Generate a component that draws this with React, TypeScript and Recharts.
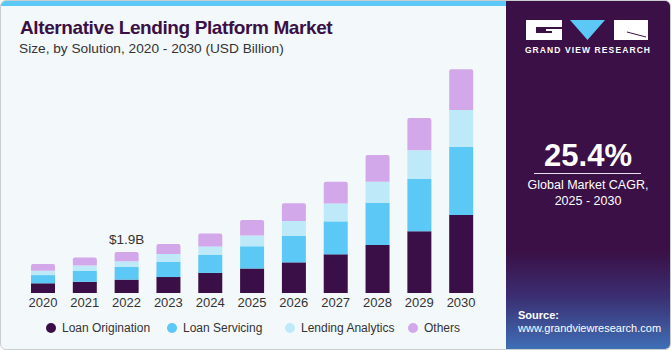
import { BarChart, Bar, XAxis, YAxis, LabelList } from 'recharts';

const years = ['2020', '2021', '2022', '2023', '2024', '2025', '2026', '2027', '2028', '2029', '2030'];
const loanOrigination = [0.45, 0.52, 0.62, 0.74, 0.93, 1.14, 1.42, 1.79, 2.22, 2.86, 3.61];
const loanServicing = [0.38, 0.5, 0.59, 0.7, 0.83, 1.03, 1.22, 1.53, 1.96, 2.42, 3.17];
const lendingAnalytics = [0.2, 0.25, 0.26, 0.37, 0.4, 0.5, 0.7, 0.83, 0.97, 1.33, 1.7];
const others = [0.31, 0.37, 0.43, 0.46, 0.6, 0.71, 0.82, 1.01, 1.25, 1.5, 1.89];
const labelled = { index: 2, text: '$1.9B' };

const series = [
  { key: 'origination', name: 'Loan Origination', color: '#3a0f47' },
  { key: 'servicing', name: 'Loan Servicing', color: '#5bc8f5' },
  { key: 'analytics', name: 'Lending Analytics', color: '#bde9f9' },
  { key: 'others', name: 'Others', color: '#d3a8ea' },
];
// legend item left edges (circle) in the reference
const legendX = [46, 167, 285, 408];

const data = years.map((year, i) => ({
  year,
  origination: loanOrigination[i],
  servicing: loanServicing[i],
  analytics: lendingAnalytics[i],
  others: others[i],
}));

const FONT = '"Liberation Sans", Arial, sans-serif';

function ValueLabel(props: any) {
  const { x, y, width, index } = props;
  if (index !== labelled.index) return null;
  return (
    <text x={x + width / 2} y={y - 8} textAnchor="middle" fontSize={13.5} fill="#333" fontFamily={FONT}>
      {labelled.text}
    </text>
  );
}

export default function App() {
  return (
    <div style={{ position: 'relative', width: 671, height: 350, background: '#fff', fontFamily: FONT }}>
      <style>{'body{margin:0}'}</style>
      {/* card */}
      <div style={{ position: 'absolute', left: 0, top: 0, width: 669, height: 348, border: '1px solid #c9cdd0', borderRadius: 6, background: '#f3f8fb', overflow: 'hidden' }}>
        <div style={{ position: 'absolute', left: 0, top: 0, width: 506, height: 5, background: '#5bc8f5' }} />
        <div style={{ position: 'absolute', left: 505, top: 0, width: 164, height: 348, background: 'linear-gradient(180deg, #3a1046 0%, #3a1046 72%, #3b2e72 85%, #3f6fb6 100%)' }} />
      </div>

      <div style={{ position: 'absolute', left: 20, top: 17, fontSize: 19, fontWeight: 900, color: '#3a1046', letterSpacing: -0.4, whiteSpace: 'nowrap' }}>
        Alternative Lending Platform Market
      </div>
      <div style={{ position: 'absolute', left: 19, top: 41, fontSize: 13.7, color: '#333', whiteSpace: 'nowrap' }}>
        Size, by Solution, 2020 - 2030 (USD Billion)
      </div>

      <div style={{ position: 'absolute', left: 0, top: 0 }}>
        <BarChart width={500} height={350} data={data} margin={{ top: 55.6, right: 18, bottom: 27, left: 22 }} barSize={24}>
          <XAxis dataKey="year" axisLine={false} tickLine={false} tickSize={0} tickMargin={5} height={30} interval={0}
            tick={{ fontSize: 13, fill: '#333', fontFamily: FONT }} />
          <YAxis hide domain={[0, 11]} />
          {series.map((s, i) => (
            <Bar key={s.key} dataKey={s.key} name={s.name} stackId="a" fill={s.color} isAnimationActive={false}
              radius={i === series.length - 1 ? [2, 2, 0, 0] : 0}>
              {i === series.length - 1 && <LabelList dataKey="others" content={<ValueLabel />} />}
            </Bar>
          ))}
        </BarChart>
      </div>

      {/* legend */}
      {series.map((s, i) => (
        <div key={s.key} style={{ position: 'absolute', left: legendX[i], top: 320, height: 16, display: 'flex', alignItems: 'center', gap: 6, fontSize: 12, color: '#333', whiteSpace: 'nowrap' }}>
          <span style={{ width: 10, height: 10, borderRadius: 5, background: s.color, display: 'inline-block' }} />
          {s.name}
        </div>
      ))}

      {/* right panel */}
      <svg style={{ position: 'absolute', left: 526, top: 20 }} width={122} height={20}>
        <path d="M0 0 H36 V7 H10 V13 H26 V11 H20 V9 H36 V20 H0 Z" fill="#fff" />
        <path d="M44 0 H79 L61.5 20 Z" fill="#5bc8f5" />
        <path d="M88 0 H122 V20 H88 Z" fill="#fff" />
        <path d="M101 12 L120 17" stroke="#3a1046" strokeWidth={1} />
      </svg>
      <div style={{ position: 'absolute', left: 505, width: 166, top: 45, textAlign: 'center', color: '#fff', fontSize: 8.5, fontWeight: 700, letterSpacing: 1.1 }}>
        GRAND VIEW RESEARCH
      </div>
      <div style={{ position: 'absolute', left: 505, width: 166, top: 138, textAlign: 'center', color: '#fff', fontSize: 31, fontWeight: 700 }}>
        25.4%
      </div>
      <div style={{ position: 'absolute', left: 534, width: 107, top: 173, height: 1, background: '#e8e0ee' }} />
      <div style={{ position: 'absolute', left: 505, width: 166, top: 177, textAlign: 'center', color: '#fff', fontSize: 12.5, lineHeight: '16px' }}>
        Global Market CAGR,<br />2025 - 2030
      </div>
      <div style={{ position: 'absolute', left: 518, top: 309, color: '#fff', fontSize: 11, fontWeight: 700 }}>Source:</div>
      <div style={{ position: 'absolute', left: 518, top: 322, color: '#fff', fontSize: 11 }}>www.grandviewresearch.com</div>
    </div>
  );
}
